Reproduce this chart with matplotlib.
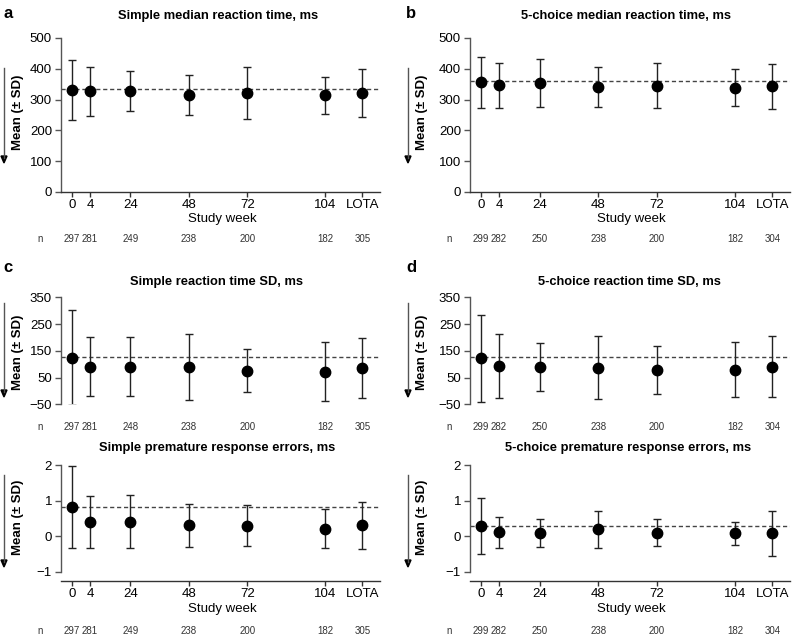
import matplotlib
matplotlib.use('Agg')
import matplotlib.pyplot as plt
import matplotlib.transforms as mtransforms

plt.rcParams['font.family'] = ['Liberation Sans', 'DejaVu Sans']

# study visits
weeks = ['0', '4', '24', '48', '72', '104', 'LOTA']
week_pos = [0, 7.4, 24, 48, 72, 104, 119.3]

n_simple = [297, 281, 249, 238, 200, 182, 305]
n_simple_sd = [297, 281, 248, 238, 200, 182, 305]
n_choice = [299, 282, 250, 238, 200, 182, 304]

# a: simple median reaction time
simple_rt_mean = [332, 327, 327, 316, 321, 314, 321]
simple_rt_sd = [98, 80, 65, 65, 84, 60, 77]
simple_rt_ref = 335

# b: 5-choice median reaction time
choice_rt_mean = [356, 346, 354, 341, 345, 338, 343]
choice_rt_sd = [83, 73, 79, 66, 73, 60, 73]
choice_rt_ref = 360

# c: simple reaction time SD
simple_sd_mean = [124, 91, 90, 90, 76, 72, 85]
simple_sd_sd = [178, 111, 110, 124, 80, 110, 112]
simple_sd_ref = 127

# d: 5-choice reaction time SD
choice_sd_mean = [122, 94, 90, 87, 78, 79, 91]
choice_sd_sd = [163, 119, 90, 117, 89, 103, 115]
choice_sd_ref = 125

# simple premature response errors
simple_pre_mean = [0.82, 0.39, 0.41, 0.30, 0.29, 0.21, 0.30]
simple_pre_sd = [1.16, 0.73, 0.75, 0.60, 0.58, 0.54, 0.65]
simple_pre_ref = 0.81

# 5-choice premature response errors
choice_pre_mean = [0.29, 0.11, 0.08, 0.19, 0.10, 0.08, 0.08]
choice_pre_sd = [0.79, 0.44, 0.39, 0.52, 0.37, 0.33, 0.63]
choice_pre_ref = 0.29

W, H = 793, 637
fig = plt.figure(figsize=(W / 100, H / 100), dpi=100)


def fx(x):
    return x / W


def fy(y):
    return 1 - y / H


# layout in pixels
rows = [
    dict(top=38, bot=192, ylim=(0, 500), yticks=[0, 100, 200, 300, 400, 500],
         xaxis=True, offset=0, ty=16, ly=13, swy=219, ny=239,
         arrow=(68, 163), lab=112),
    dict(top=297.3, bot=404.3, ylim=(-50, 350), yticks=[-50, 50, 150, 250, 350],
         xaxis=False, offset=0, ty=282, ly=267, swy=None, ny=427,
         arrow=(303, 397), lab=352),
    dict(top=465, bot=571.7, ylim=(-1, 2), yticks=[-1, 0, 1, 2],
         xaxis=True, offset=7, ty=448, ly=None, swy=609, ny=631,
         arrow=(475, 567), lab=517),
]
cols = [dict(left=61, right=380, arrow_x=4, lab_x=18, n_x=40, sw_x=222, lx=8),
        dict(left=470, right=790, arrow_x=408, lab_x=422, n_x=449, sw_x=631, lx=411)]

panels = [
    (0, 0, 'a', 'Simple median reaction time, ms', simple_rt_mean, simple_rt_sd, simple_rt_ref, n_simple, 218),
    (0, 1, 'b', '5-choice median reaction time, ms', choice_rt_mean, choice_rt_sd, choice_rt_ref, n_choice, 626),
    (1, 0, 'c', 'Simple reaction time SD, ms', simple_sd_mean, simple_sd_sd, simple_sd_ref, n_simple_sd, 217),
    (1, 1, 'd', '5-choice reaction time SD, ms', choice_sd_mean, choice_sd_sd, choice_sd_ref, n_choice, 629),
    (2, 0, None, 'Simple premature response errors, ms', simple_pre_mean, simple_pre_sd, simple_pre_ref, n_simple, 217),
    (2, 1, None, '5-choice premature response errors, ms', choice_pre_mean, choice_pre_sd, choice_pre_ref, n_choice, 628),
]

spine_col = '#555555'

for r, c, letter, title, mean, sd, ref, ns, tx in panels:
    row = rows[r]
    col = cols[c]
    ax = fig.add_axes([fx(col['left']), fy(row['bot']),
                       (col['right'] - col['left']) / W, (row['bot'] - row['top']) / H])
    ax.set_xlim(-4.5, 126.5)
    ax.set_ylim(*row['ylim'])
    ax.set_yticks(row['yticks'])
    ax.patch.set_alpha(0)

    ax.axhline(ref, color='#444444', lw=1, ls=(0, (3, 2)), zorder=1)
    ax.errorbar(week_pos, mean, yerr=sd, fmt='o', color='black', ms=7.5,
                ecolor='#222222', elinewidth=1, capsize=3, capthick=1, zorder=3)

    for s in ['top', 'right']:
        ax.spines[s].set_visible(False)
    ax.spines['left'].set_color(spine_col)
    ax.spines['left'].set_linewidth(1)
    ax.tick_params(axis='y', length=4, width=1, color=spine_col, pad=2.5, labelsize=9.5)

    if row['xaxis']:
        ax.spines['bottom'].set_color('#333333')
        ax.spines['bottom'].set_linewidth(1)
        if row['offset']:
            ax.spines['bottom'].set_position(('outward', row['offset']))
        ax.set_xticks(week_pos)
        ax.set_xticklabels(weeks)
        ax.tick_params(axis='x', length=3.5, width=1, color='#333333', pad=1.5, labelsize=9.5)
        fig.text(fx(col['sw_x']), fy(row['swy']), 'Study week', fontsize=9.5,
                 ha='center', va='center')
    else:
        ax.spines['bottom'].set_visible(False)
        ax.set_xticks([])

    # n row under the axis
    trans = mtransforms.blended_transform_factory(ax.transData, fig.transFigure)
    fig.text(fx(col['n_x']), fy(row['ny']), 'n', fontsize=7, ha='center', va='center', color='#333333')
    for xp, nv in zip(week_pos, ns):
        ax.text(xp, fy(row['ny']), str(nv), transform=trans, fontsize=7,
                ha='center', va='center', color='#333333', clip_on=False)

    fig.text(fx(tx), fy(row['ty']), title, fontsize=9.3, fontweight='bold',
             ha='center', va='center')
    if letter:
        fig.text(fx(col['lx']), fy(row['ly']), letter, fontsize=12, fontweight='bold',
                 ha='center', va='center')

    # y label with downward arrow
    fig.text(fx(col['lab_x']), fy(row['lab']), 'Mean (± SD)', fontsize=9.5, fontweight='bold',
             rotation=90, ha='center', va='center')
    y0, y1 = row['arrow']
    fig.add_artist(matplotlib.lines.Line2D([fx(col['arrow_x'])] * 2, [fy(y0), fy(y1 - 5)],
                                           color='#555555', lw=1, transform=fig.transFigure))
    fig.add_artist(matplotlib.patches.Polygon(
        [[fx(col['arrow_x'] - 3), fy(y1 - 7)], [fx(col['arrow_x'] + 3), fy(y1 - 7)],
         [fx(col['arrow_x']), fy(y1)]], closed=True, color='black',
        transform=fig.transFigure))

fig.savefig('out.png', dpi=100)
